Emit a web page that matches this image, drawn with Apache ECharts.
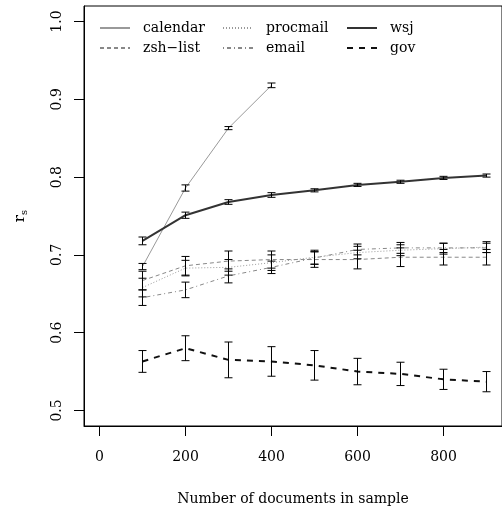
<!DOCTYPE html>
<html><head><meta charset="utf-8">
<script src="https://cdn.jsdelivr.net/npm/echarts@6/dist/echarts.min.js"></script>
<style>html,body{margin:0;padding:0;background:#fff}#c{width:502px;height:512px}</style>
</head><body><div id="c"></div>
<script>
const sampleSizes = [100, 200, 300, 400, 500, 600, 700, 800, 900];
const calendarSizes = [100, 200, 300, 400];
const calendar = [0.685, 0.786, 0.863, 0.918];
const calendarErr = [0.004, 0.004, 0.002, 0.003];
const zshList = [0.667, 0.686, 0.692, 0.694, 0.694, 0.694, 0.697, 0.697, 0.697];
const zshListErr = [0.012, 0.012, 0.013, 0.011, 0.010, 0.012, 0.012, 0.010, 0.010];
const procmail = [0.658, 0.683, 0.684, 0.690, 0.697, 0.703, 0.706, 0.708, 0.710];
const procmailErr = [0.012, 0.010, 0.010, 0.010, 0.009, 0.008, 0.007, 0.007, 0.007];
const email = [0.645, 0.655, 0.673, 0.684, 0.696, 0.707, 0.709, 0.709, 0.709];
const emailErr = [0.010, 0.010, 0.009, 0.008, 0.008, 0.007, 0.007, 0.006, 0.006];
const wsj = [0.718, 0.751, 0.768, 0.777, 0.783, 0.790, 0.794, 0.799, 0.802];
const wsjErr = [0.005, 0.004, 0.003, 0.003, 0.002, 0.002, 0.002, 0.002, 0.002];
const gov = [0.563, 0.580, 0.565, 0.563, 0.558, 0.550, 0.547, 0.540, 0.537];
const govErr = [0.014, 0.016, 0.023, 0.019, 0.019, 0.017, 0.015, 0.013, 0.013];
const xTicks = [0, 200, 400, 600, 800];
const yTicks = [0.5, 0.6, 0.7, 0.8, 0.9, 1.0];

const FONT = 'DejaVu Serif';
const pairs = (xs, ys) => xs.map((x, i) => [x, ys[i]]);
const errData = (xs, ys, es) => xs.map((x, i) => [x, ys[i] - es[i], ys[i] + es[i]]);

function errSeries(xs, ys, es) {
  return {
    type: 'custom', silent: true, z: 5,
    data: errData(xs, ys, es),
    renderItem: function (params, api) {
      const x = api.value(0);
      const lo = api.coord([x, api.value(1)]);
      const hi = api.coord([x, api.value(2)]);
      const w = 4;
      const st = { stroke: '#000', lineWidth: 1 };
      return { type: 'group', children: [
        { type: 'line', shape: { x1: lo[0], y1: lo[1], x2: hi[0], y2: hi[1] }, style: st },
        { type: 'line', shape: { x1: lo[0] - w, y1: lo[1], x2: lo[0] + w, y2: lo[1] }, style: st },
        { type: 'line', shape: { x1: hi[0] - w, y1: hi[1], x2: hi[0] + w, y2: hi[1] }, style: st }
      ]};
    }
  };
}
function lineSeries(name, xs, ys, color, width, type) {
  return {
    name: name, type: 'line', data: pairs(xs, ys), symbol: 'none', z: 3,
    lineStyle: { color: color, width: width, type: type },
    itemStyle: { color: color }
  };
}

const chart = echarts.init(document.getElementById('c'));
const legendBase = {
  orient: 'vertical', top: 21, padding: 0, itemWidth: 30, itemHeight: 12, itemGap: 6,
  itemStyle: { opacity: 0 },
  textStyle: { fontFamily: FONT, fontSize: 14, color: '#000', padding: [0, 0, 0, 8] },
  selectedMode: false
};
chart.setOption({
  animation: false,
  grid: { left: 84, top: 6, width: 420, height: 420, show: true, borderColor: '#000', borderWidth: 1, containLabel: false },
  legend: [
    Object.assign({}, legendBase, { left: 99, data: ['calendar', 'zsh\u2212list'] }),
    Object.assign({}, legendBase, { left: 222, data: ['procmail', 'email'] }),
    Object.assign({}, legendBase, { left: 346, data: ['wsj', 'gov'] })
  ],
  xAxis: {
    type: 'value', min: -36, max: 936,
    name: 'Number of documents in sample', nameLocation: 'middle', nameGap: 66,
    nameTextStyle: { fontFamily: FONT, fontSize: 14, color: '#000' },
    splitLine: { show: false },
    axisLine: { show: true, onZero: false, lineStyle: { color: '#000' } },
    axisTick: { show: true, length: 10, lineStyle: { color: '#000' }, customValues: xTicks },
    axisLabel: { fontFamily: FONT, fontSize: 14, color: '#000', margin: 24, customValues: xTicks, formatter: v => String(v) }
  },
  yAxis: {
    type: 'value', min: 0.48, max: 1.02,
    name: '{r|r}{s|s}', nameLocation: 'middle', nameGap: 55, nameRotate: 90,
    nameTextStyle: { rich: { r: { fontFamily: FONT, fontSize: 15, color: '#000' }, s: { fontFamily: FONT, fontSize: 10, color: '#000', padding: [8, 0, 0, 0] } } },
    splitLine: { show: false },
    axisLine: { show: true, onZero: false, lineStyle: { color: '#000' } },
    axisTick: { show: true, length: 10, lineStyle: { color: '#000' }, customValues: yTicks },
    axisLabel: { fontFamily: FONT, fontSize: 14, color: '#000', margin: 20, rotate: 90, customValues: yTicks, formatter: v => v.toFixed(1) }
  },
  series: [
    lineSeries('calendar', calendarSizes, calendar, '#999', 1, 'solid'),
    lineSeries('zsh\u2212list', sampleSizes, zshList, '#888', 1, [4, 3]),
    lineSeries('procmail', sampleSizes, procmail, '#999', 1, [1, 2]),
    lineSeries('email', sampleSizes, email, '#888', 1, [1, 3, 4, 3]),
    lineSeries('wsj', sampleSizes, wsj, '#333', 2, 'solid'),
    lineSeries('gov', sampleSizes, gov, '#111', 2, [6, 6]),
    errSeries(calendarSizes, calendar, calendarErr),
    errSeries(sampleSizes, zshList, zshListErr),
    errSeries(sampleSizes, procmail, procmailErr),
    errSeries(sampleSizes, email, emailErr),
    errSeries(sampleSizes, wsj, wsjErr),
    errSeries(sampleSizes, gov, govErr)
  ]
});
</script></body></html>
